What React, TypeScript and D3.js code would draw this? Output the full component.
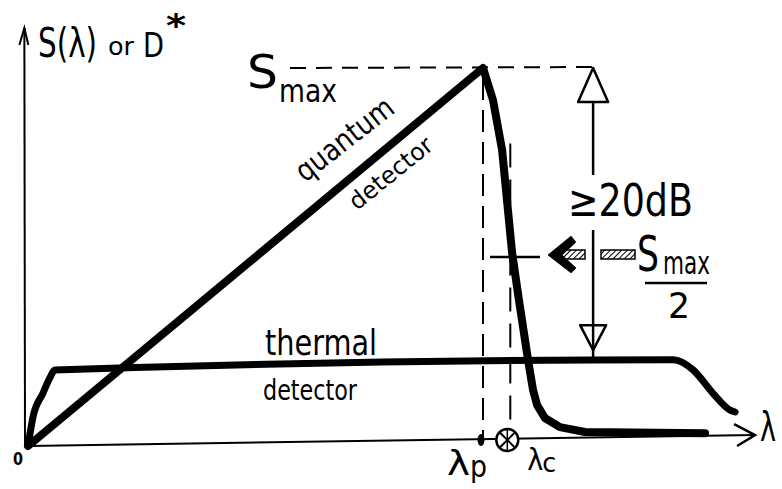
import React from 'react';
import * as d3 from 'd3';

// responsivity curves, x = lambda / lambda_p, y = S / S_max
const quantumX = [0, 1.0, 1.022, 1.042, 1.064, 1.079, 1.099, 1.11, 1.119, 1.136, 1.169, 1.224, 1.488];
const quantumY = [0, 1.0, 0.915, 0.783, 0.511, 0.386, 0.228, 0.148, 0.108, 0.074, 0.05, 0.037, 0.034];
const thermalX = [0, 0.011, 0.033, 0.048, 0.059, 1.418, 1.462, 1.505, 1.543, 1.554];
const thermalY = [0, 0.077, 0.14, 0.18, 0.201, 0.228, 0.201, 0.14, 0.095, 0.09];

// marker positions
const lambdaP = 1;
const lambdaC = 1.06;
const sMax = 1;
const halfMax = 0.5;
const dbArrowX = 1.242;
const xAxisEnd = [1.598, 0.029]; // the hand-drawn axis drifts up a bit
const yAxisEnd = [-0.008, 1.106];

const FONT = "'DejaVu Sans Condensed', 'Liberation Sans Narrow', 'DejaVu Sans', sans-serif";

export default function App() {
  const width = 782;
  const height = 489;

  const x = d3.scaleLinear().domain([0, 1]).range([28, 483]);
  const y = d3.scaleLinear().domain([0, 1]).range([446, 68]);

  const quantum = quantumX.map((v, i) => [v, quantumY[i]] as [number, number]);
  const thermal = thermalX.map((v, i) => [v, thermalY[i]] as [number, number]);

  const quantumLine = d3.line<[number, number]>()
    .x(d => x(d[0]))
    .y(d => y(d[1]))
    .curve(d3.curveLinear);
  const thermalLine = d3.line<[number, number]>()
    .x(d => x(d[0]))
    .y(d => y(d[1]))
    .curve(d3.curveMonotoneX);

  const thermalAt = d3.scaleLinear().domain(thermalX).range(thermalY);

  const ax = x(dbArrowX);
  const yTop = y(sMax);
  const yBottom = y(thermalAt(dbArrowX));
  const yHalf = y(halfMax);

  const txt = { fontFamily: FONT, fill: '#000' } as React.CSSProperties;

  return (
    <div style={{ position: 'absolute', left: 0, top: 0 }}>
      <svg width={width} height={height} style={{ display: 'block', background: '#fff' }}>
        <defs>
          <pattern id="hatch" width="4" height="4" patternUnits="userSpaceOnUse" patternTransform="rotate(45)">
            <line x1="0" y1="0" x2="0" y2="4" stroke="#000" strokeWidth="2" />
          </pattern>
        </defs>

        {/* axes */}
        <line x1={x(0)} y1={y(0)} x2={x(xAxisEnd[0])} y2={y(xAxisEnd[1])} stroke="#000" strokeWidth={2} />
        <path
          d={`M${x(xAxisEnd[0]) - 21},${y(xAxisEnd[1]) - 11} L${x(xAxisEnd[0])},${y(xAxisEnd[1])} L${x(xAxisEnd[0]) - 18},${y(xAxisEnd[1]) + 11}`}
          fill="none" stroke="#000" strokeWidth={2.5} />
        <line x1={x(0) - 3} y1={y(0)} x2={x(yAxisEnd[0])} y2={y(yAxisEnd[1])} stroke="#000" strokeWidth={2} />
        <path
          d={`M${x(yAxisEnd[0]) - 5},${y(yAxisEnd[1]) + 17} L${x(yAxisEnd[0])},${y(yAxisEnd[1])} L${x(yAxisEnd[0]) + 4},${y(yAxisEnd[1]) + 17}`}
          fill="none" stroke="#000" strokeWidth={2} />

        {/* S_max guides */}
        <line x1={290} y1={yTop} x2={ax + 4} y2={yTop - 1} stroke="#000" strokeWidth={2} strokeDasharray="16 10" />
        <line x1={x(lambdaP)} y1={y(sMax) + 10} x2={x(lambdaP)} y2={y(0) - 4} stroke="#000" strokeWidth={2} strokeDasharray="22 10" />
        <line x1={x(lambdaC)} y1={y(0.8)} x2={x(lambdaC)} y2={y(0) - 14} stroke="#000" strokeWidth={2} strokeDasharray="24 12" />

        {/* half-max tick */}
        <line x1={x(lambdaP) + 7} y1={yHalf} x2={x(lambdaP) + 57} y2={yHalf} stroke="#000" strokeWidth={2.5} />

        {/* curves */}
        <path d={thermalLine(thermal) ?? ''} fill="none" stroke="#000" strokeWidth={7} strokeLinejoin="round" strokeLinecap="round" />
        <path d={quantumLine(quantum) ?? ''} fill="none" stroke="#000" strokeWidth={8} strokeLinejoin="round" strokeLinecap="round" />

        {/* >= 20 dB double arrow */}
        <line x1={ax} y1={yTop + 34} x2={ax} y2={175} stroke="#000" strokeWidth={2.5} />
        <line x1={ax} y1={230} x2={ax} y2={yBottom} stroke="#000" strokeWidth={2.5} />
        <path d={`M${ax},${yTop} L${ax - 15},${yTop + 34} L${ax + 15},${yTop + 34} Z`} fill="none" stroke="#000" strokeWidth={2.5} strokeLinejoin="round" />
        <path d={`M${ax - 13},${yBottom - 36} L${ax + 13},${yBottom - 36} L${ax},${yBottom - 11} Z`} fill="none" stroke="#000" strokeWidth={2.5} strokeLinejoin="round" />

        {/* hatched arrow pointing at S_max / 2 */}
        <path
          d={`M549,${yHalf - 2} L571,${yHalf - 20} L575,${yHalf - 15} L561,${yHalf - 2} L575,${yHalf + 11} L571,${yHalf + 15} Z`}
          fill="#000" stroke="#000" strokeWidth={2} strokeLinejoin="round" />
        <rect x={561} y={yHalf - 7} width={24} height={9} fill="url(#hatch)" stroke="#000" strokeWidth={1.5} />
        <rect x={601} y={yHalf - 7} width={34} height={9} fill="url(#hatch)" stroke="#000" strokeWidth={1.5} />

        {/* lambda_p and lambda_c markers */}
        <ellipse cx={x(lambdaP) - 2} cy={y(0) - 6} rx={3.5} ry={6} fill="#000" />
        <g transform={`translate(${x(lambdaC) - 3},${y(0) - 6})`}>
          <circle r={11} fill="#fff" stroke="#000" strokeWidth={2.5} />
          <line x1={-7} y1={-7} x2={7} y2={7} stroke="#000" strokeWidth={2} />
          <line x1={-7} y1={7} x2={7} y2={-7} stroke="#000" strokeWidth={2} />
          <line x1={0} y1={-10} x2={0} y2={10} stroke="#000" strokeWidth={1.5} />
        </g>

        {/* labels */}
        <text x={38} y={57} fontSize={40} style={txt} textLength={59} lengthAdjust="spacingAndGlyphs">S(λ)</text>
        <text x={108} y={55} fontSize={24} style={txt} textLength={26} lengthAdjust="spacingAndGlyphs">or</text>
        <text x={143} y={57} fontSize={34} style={txt} textLength={21} lengthAdjust="spacingAndGlyphs">D</text>
        <text x={166} y={36} fontSize={32} fontWeight="bold" style={txt} textLength={20} lengthAdjust="spacingAndGlyphs">*</text>

        <text x={247} y={88} fontSize={46} style={txt} textLength={31} lengthAdjust="spacingAndGlyphs">S</text>
        <text x={279} y={102} fontSize={32} style={txt} textLength={58} lengthAdjust="spacingAndGlyphs">max</text>

        <text transform="translate(305,183) rotate(-38)" fontSize={30} style={txt} textLength={116} lengthAdjust="spacingAndGlyphs">quantum</text>
        <text transform="translate(357,211) rotate(-39)" fontSize={24} style={txt} textLength={100} lengthAdjust="spacingAndGlyphs">detector</text>

        <text x={265} y={355} fontSize={36} style={txt} textLength={112} lengthAdjust="spacingAndGlyphs">thermal</text>
        <text x={263} y={400} fontSize={29} style={txt} textLength={94} lengthAdjust="spacingAndGlyphs">detector</text>

        <text x={568} y={216} fontSize={44} style={txt} textLength={125} lengthAdjust="spacingAndGlyphs">≥20dB</text>

        <text x={637} y={271} fontSize={50} style={txt} textLength={22} lengthAdjust="spacingAndGlyphs">S</text>
        <text x={663} y={274} fontSize={32} style={txt} textLength={47} lengthAdjust="spacingAndGlyphs">max</text>
        <line x1={645} y1={283} x2={707} y2={283} stroke="#000" strokeWidth={2.5} />
        <text x={668} y={318} fontSize={36} style={txt} textLength={22} lengthAdjust="spacingAndGlyphs">2</text>

        <text x={13} y={465} fontSize={18} fontWeight="bold" style={txt} textLength={10} lengthAdjust="spacingAndGlyphs">0</text>

        <text x={x(lambdaP) - 36} y={475} fontSize={34} style={txt} textLength={23} lengthAdjust="spacingAndGlyphs">λ</text>
        <text x={x(lambdaP) - 13} y={477} fontSize={30} style={txt} textLength={17} lengthAdjust="spacingAndGlyphs">p</text>
        <text x={x(lambdaC) + 17} y={470} fontSize={30} style={txt} textLength={16} lengthAdjust="spacingAndGlyphs">λ</text>
        <text x={x(lambdaC) + 32} y={472} fontSize={26} style={txt} textLength={14} lengthAdjust="spacingAndGlyphs">c</text>

        <text x={760} y={441} fontSize={40} style={txt} textLength={16} lengthAdjust="spacingAndGlyphs">λ</text>
      </svg>
    </div>
  );
}
